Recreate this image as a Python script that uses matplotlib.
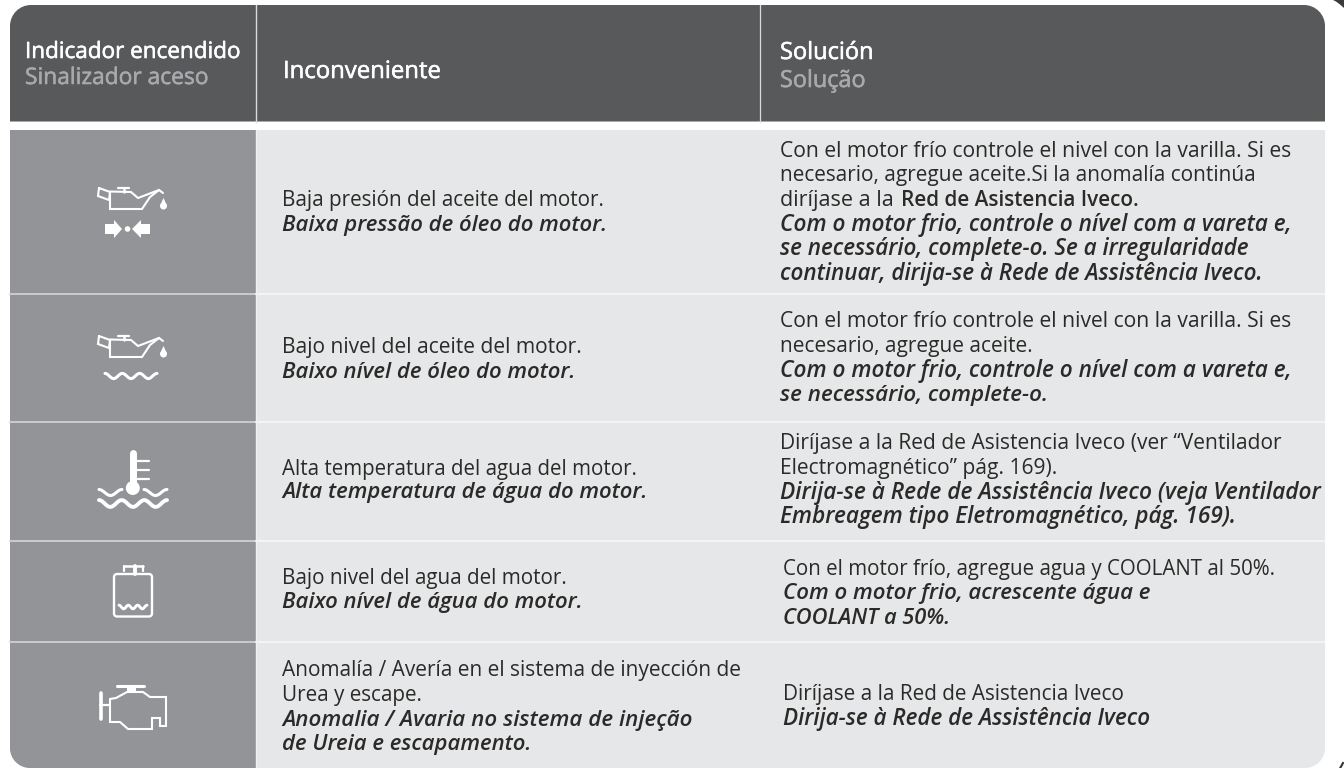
import matplotlib
matplotlib.use("Agg")
import matplotlib.pyplot as plt
import matplotlib.patheffects as pe
from matplotlib.path import Path
from matplotlib.patches import PathPatch, Rectangle, Circle
import numpy as np

W, H = 1344, 768
DARK, MID, LIGHT = "#58595b", "#929497", "#e6e7e8"
INK = "#2b2a29"
FONT = ["Open Sans", "DejaVu Sans"]
plt.rcParams["font.family"] = FONT

# --- table content -------------------------------------------------------
header_es = ["Indicador encendido", "Inconveniente", "Solución"]
header_pt = ["Sinalizador aceso", "", "Solução"]

problem_lines = [
    [("Baja presión del aceite del motor.", 0), ("Baixa pressão de óleo do motor.", 1)],
    [("Bajo nivel del aceite del motor.", 0), ("Baixo nível de óleo do motor.", 1)],
    [("Alta temperatura del agua del motor.", 0), ("Alta temperatura de água do motor.", 1)],
    [("Bajo nivel del agua del motor.", 0), ("Baixo nível de água do motor.", 1)],
    [("Anomalía / Avería en el sistema de inyección de", 0), ("Urea y escape.", 0),
     ("Anomalia / Avaria no sistema de injeção", 1), ("de Ureia e escapamento.", 1)],
]
solution_lines = [
    [("Con el motor frío controle el nivel con la varilla. Si es", 0),
     ("necesario, agregue aceite.Si la anomalía continúa", 0),
     ("diríjase a la", 0),
     ("Com o motor frio, controle o nível com a vareta e,", 1),
     ("se necessário, complete-o. Se a irregularidade", 1),
     ("continuar, dirija-se à Rede de Assistência Iveco.", 1)],
    [("Con el motor frío controle el nivel con la varilla. Si es", 0),
     ("necesario, agregue aceite.", 0),
     ("Com o motor frio, controle o nível com a vareta e,", 1),
     ("se necessário, complete-o.", 1)],
    [("Diríjase a la Red de Asistencia Iveco (ver “Ventilador", 0),
     ("Electromagnético” pág. 169).", 0),
     ("Dirija-se à Rede de Assistência Iveco (veja Ventilador", 1),
     ("Embreagem tipo Eletromagnético, pág. 169).", 1)],
    [("Con el motor frío, agregue agua y COOLANT al 50%.", 0),
     ("Com o motor frio, acrescente água e", 1),
     ("COOLANT a 50%.", 1)],
    [("Diríjase a la Red de Asistencia Iveco", 0),
     ("Dirija-se à Rede de Assistência Iveco", 1)],
]
bold_inline = "Red de Asistencia Iveco."

# --- layout (pixels) -----------------------------------------------------
left, right = 10, 1325
col1, col2 = 255.5, 760
head_top, head_bot = 5, 121.5
row_edges = [130, 294, 422, 541, 642, 768]
prob_base = [[206, 231], [353, 378], [475, 498], [584, 608], [676, 701, 726, 750]]
prob_end = [[605, 606], [582, 576], [638, 648], [567, 582], [742, 422, 691, 532]]
sol_base = [[157, 181, 206, 231, 255, 280], [327, 352, 377, 401],
            [449, 474, 499, 523], [575, 599, 624], [700, 725]]
sol_end = [[1295, 1256, 893, 1290, 1251, 1264], [1295, 1034, 1290, 1048],
           [1283, 1059, 1322, 1235], [1276, 1151, 950], [1124, 1151]]
sol_x = [780, 780, 780, 783, 783]
prob_x = 282

fig = plt.figure(figsize=(W / 100, H / 100), dpi=100, facecolor="white")
ax = fig.add_axes([0, 0, 1, 1])
ax.set_xlim(0, W)
ax.set_ylim(H, 0)
ax.axis("off")
rend = fig.canvas.get_renderer()


def rounded(x0, y0, x1, y1, tl=0, tr=0, br=0, bl=0):
    k = 0.5523
    v = [(x0 + tl, y0), (x1 - tr, y0)]
    c = [Path.MOVETO, Path.LINETO]
    if tr:
        v += [(x1 - tr + k * tr, y0), (x1, y0 + tr - k * tr), (x1, y0 + tr)]
        c += [Path.CURVE4] * 3
    v.append((x1, y1 - br)); c.append(Path.LINETO)
    if br:
        v += [(x1, y1 - br + k * br), (x1 - br + k * br, y1), (x1 - br, y1)]
        c += [Path.CURVE4] * 3
    v.append((x0 + bl, y1)); c.append(Path.LINETO)
    if bl:
        v += [(x0 + bl - k * bl, y1), (x0, y1 - bl + k * bl), (x0, y1 - bl)]
        c += [Path.CURVE4] * 3
    v.append((x0, y0 + tl)); c.append(Path.LINETO)
    if tl:
        v += [(x0, y0 + tl - k * tl), (x0 + tl - k * tl, y0), (x0 + tl, y0)]
        c += [Path.CURVE4] * 3
    v.append((x0 + tl, y0)); c.append(Path.CLOSEPOLY)
    return Path(v, c)


ax.add_patch(PathPatch(rounded(left, head_top, right, head_bot, tl=21, tr=21), fc=DARK, ec="none"))
body = PathPatch(rounded(left, row_edges[0], right, row_edges[-1], bl=20, br=20), fc=LIGHT, ec="none")
ax.add_patch(body)
mid = Rectangle((left, row_edges[0]), col1 - left, row_edges[-1] - row_edges[0], fc=MID, ec="none")
ax.add_patch(mid)
mid.set_clip_path(body)

ax.plot([col1 + .5, col1 + .5], [head_top, head_bot], color="#d9dadb", lw=1.0)
ax.plot([col2, col2], [head_top, head_bot], color="#d9dadb", lw=0.9)
ax.plot([col1 + .5, col1 + .5], [row_edges[0], row_edges[-1]], color="#f1f1f2", lw=1.0)
for y in row_edges[1:-1]:
    ax.plot([left, col1], [y, y], color="#d5d6d8", lw=1.2)
    ax.plot([col1, right], [y, y], color="#f7f7f7", lw=1.2)

# corner marks of the neighbouring page
ax.fill([1333, 1344, 1344, 1340, 1336], [0, 0, 8, 4.5, 1.5], color="#3a3a3a", lw=0)
ax.plot([1340.5, 1343], [767.5, 763], color="#333333", lw=1.5)


def fitted(x, y, s, end, fs0=15.4, **kw):
    t = ax.text(x, y, s, fontsize=fs0, va="baseline", **kw)
    w = t.get_window_extent(rend).width
    t.set_fontsize(fs0 * (end - x) / w)
    return t


# header text
semi_w = [pe.withStroke(linewidth=0.4, foreground="white")]
semi_g = [pe.withStroke(linewidth=0.4, foreground="#a7a9ac")]
fitted(25, 58, header_es[0], 241, color="white", path_effects=semi_w)
fitted(25, 84, header_pt[0], 209, color="#a7a9ac", path_effects=semi_g)
fitted(283, 78, header_es[1], 441, color="white", path_effects=semi_w)
fitted(780, 59, header_es[2], 874, color="white", path_effects=semi_w)
fitted(780, 87, header_pt[2], 866, color="#a7a9ac", path_effects=semi_g)


def put(x, y, s, alt, end):
    return fitted(x, y, s, end, color=INK,
                  fontweight="semibold" if alt else "normal",
                  fontstyle="italic" if alt else "normal")


for lines, base, ends in zip(problem_lines, prob_base, prob_end):
    for (s, alt), y, end in zip(lines, base, ends):
        put(prob_x, y, s, alt, end)
for lines, base, x, ends in zip(solution_lines, sol_base, sol_x, sol_end):
    for (s, alt), y, end in zip(lines, base, ends):
        put(x, y, s, alt, end)
fitted(901, 206, bold_inline, 1140, color=INK, fontweight="semibold")


# --- icons ---------------------------------------------------------------
def line(xs, ys, lw=1.6, closed=False):
    xs, ys = list(xs), list(ys)
    if closed:
        xs.append(xs[0]); ys.append(ys[0])
    ax.plot(xs, ys, color="white", lw=lw, solid_joinstyle="miter", solid_capstyle="round")


def wave(x0, x1, y, n, amp=2.6, lw=2.2):
    t = np.linspace(0, 1, 80)
    ax.plot(x0 + (x1 - x0) * t, y - amp * np.cos(2 * np.pi * n * t), color="white", lw=lw,
            solid_capstyle="round")


def oil_can(dy):
    line([110, 110, 142, 150, 159, 163], np.array([192, 209, 209, 197, 190, 193]) + dy, lw=1.5)
    line([110, 131, 138, 159], np.array([191.5, 192, 198, 190]) + dy, lw=1.5)
    line([99, 110, 109, 98], np.array([188, 192, 200, 196]) + dy, lw=1.5, closed=True)
    line([118, 129], np.array([187.5, 187.5]) + dy, lw=1.6)
    line([124, 124], np.array([188, 192]) + dy, lw=1.8)
    ax.add_patch(Circle((163.5, 206 + dy), 3.5, fc="white", ec="none"))
    ax.fill([160.3, 163.5, 166.7], np.array([205, 198, 205]) + dy, color="white", lw=0)


# icon 1
oil_can(0)
ax.fill([105, 114, 114, 122, 114, 114, 105], [224, 224, 220, 229, 238, 234, 234], color="white", lw=0)
ax.fill([150, 141, 141, 132, 141, 141, 150], [224, 224, 220, 229, 238, 234, 234], color="white", lw=0)
ax.add_patch(Circle((127.5, 229), 2.8, fc="white", ec="none"))
# icon 2
oil_can(148)
wave(105, 157, 376, 3, amp=2.6)
# icon 3
ax.plot([132.8, 132.8], [453, 485], color="white", lw=5, solid_capstyle="round")
ax.add_patch(Circle((132.8, 488), 7, fc="white", ec="none"))
for y in [461, 470, 479]:
    line([136, 149], [y, y], lw=1.6)
wave(99, 122, 492.5, 1, amp=3)
wave(144, 167, 492.5, 1, amp=3)
wave(99, 167, 503.5, 3, amp=3.4, lw=2.8)
# icon 4
ax.add_patch(PathPatch(rounded(114, 574, 152, 616.5, 3, 3, 3, 3), fc="none", ec="white", lw=1.7))
line([134.5, 134.5], [566, 574], lw=2.8)
line([124, 142.5], [566, 566], lw=1.8)
line([124, 124], [566, 571], lw=1.6)
line([142.5, 142.5], [566, 571], lw=1.6)
wave(119, 147, 607, 3, amp=1.8, lw=2.1)
# icon 5
line([100.5, 100.5], [693, 719], lw=2.6)
line([100, 110], [705, 705], lw=1.6)
line([117, 144], [685.5, 685.5], lw=2.2)
ax.fill([127, 136, 136, 127], [685, 685, 693, 693], color="white", lw=0)
line([110, 110, 116, 127, 143, 150, 166, 166, 160, 160, 152, 152, 128, 120, 110],
     [722, 699, 698, 692, 692, 697, 697, 726, 726, 718, 718, 729, 729, 722, 722], lw=1.5)

fig.savefig("out.png", dpi=100)
